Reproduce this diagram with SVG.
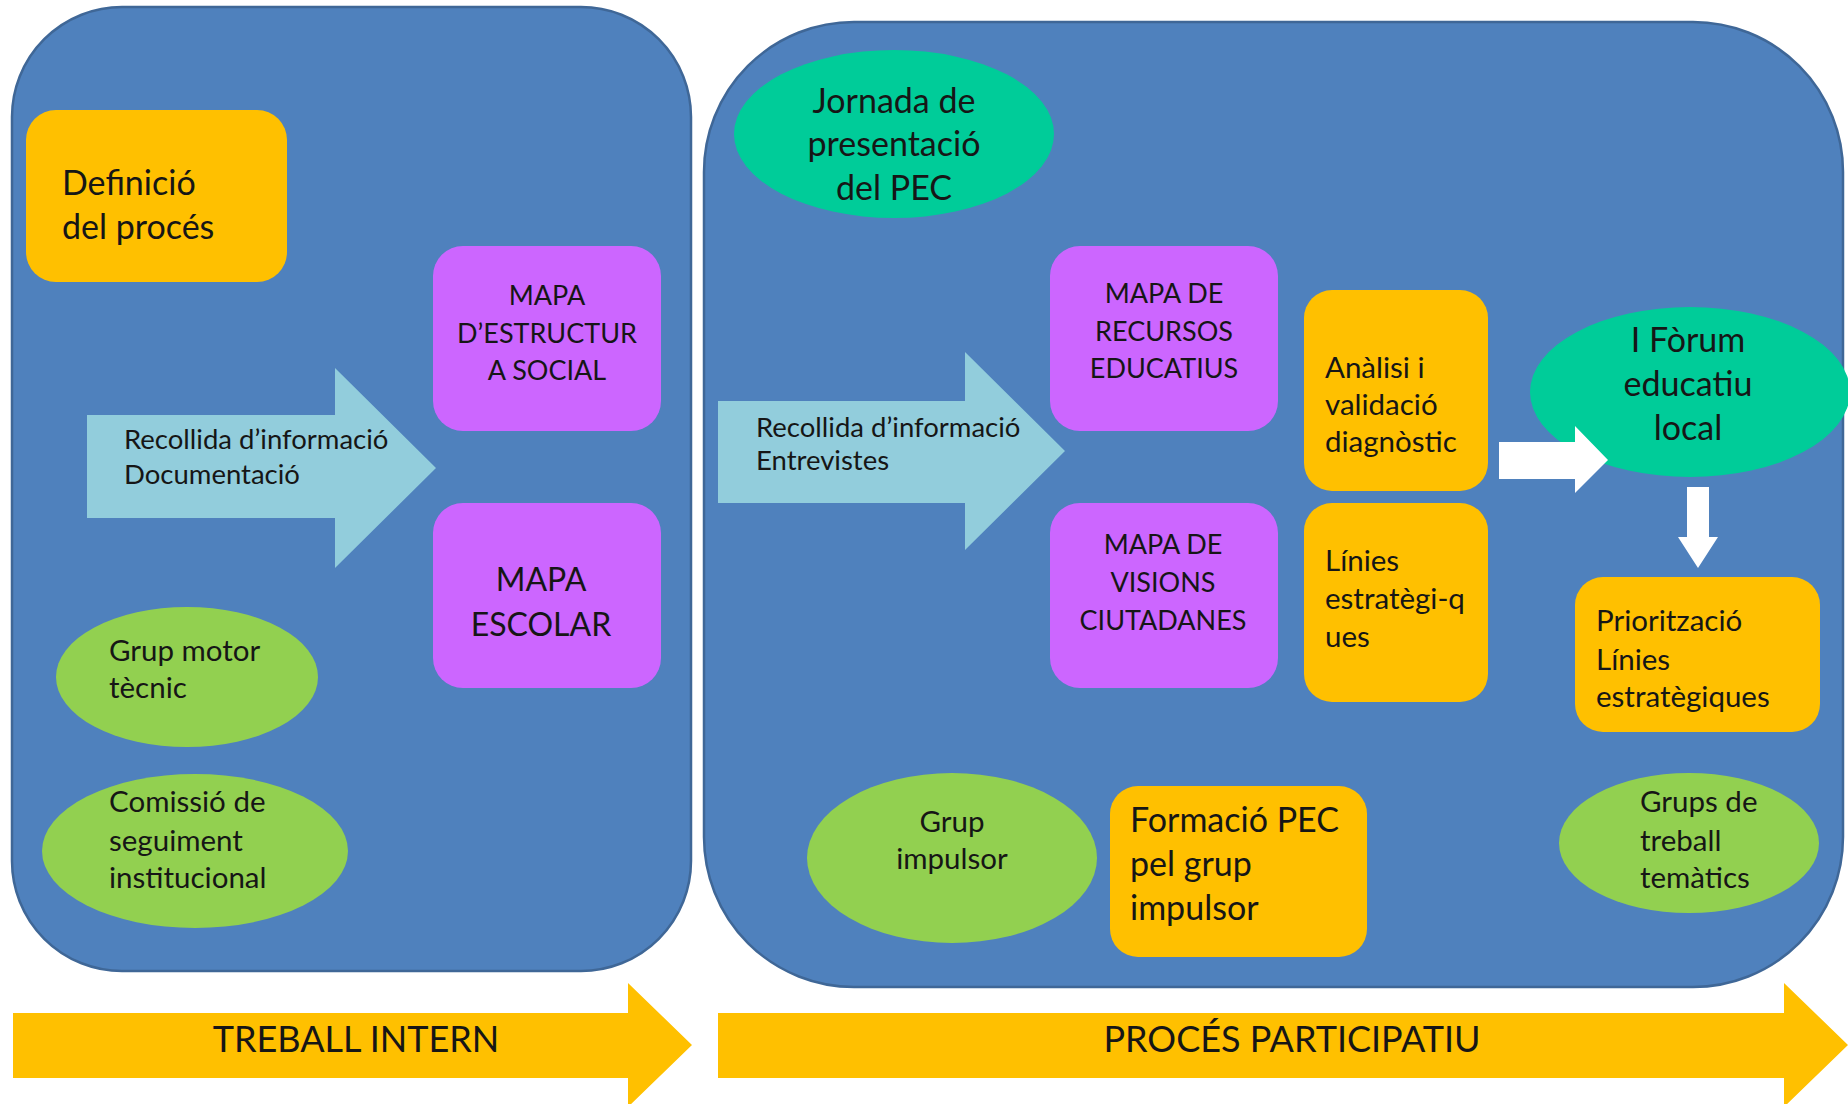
<svg xmlns="http://www.w3.org/2000/svg" width="1848" height="1104" viewBox="0 0 1848 1104">
<style>
text{font-family:Lato,"Noto Sans","Liberation Sans",sans-serif;fill:#161616}
.panel{fill:#4F81BD;stroke:#3F6797;stroke-width:2.5}
.yel{fill:#FFC000}
.vio{fill:#CC66FF}
.grn{fill:#92D050}
.teal{fill:#00CC99}
.lb{fill:#92CDDC}
.wh{fill:#FFFFFF}
.c{text-anchor:middle}
.s26{font-size:27.5px}
.s27{font-size:27px}
.s28{font-size:29.5px}
.s32{font-size:34px}
.s34{font-size:36px}
</style>
<rect width="1848" height="1104" fill="#FFFFFF"/>
<g id="panel-treball-intern"><rect class="panel" x="12" y="7" width="679" height="964" rx="110"/></g>
<g id="panel-proces-participatiu"><rect class="panel" x="704" y="22" width="1139" height="965" rx="150"/></g>

<g id="phase-treball-intern">
<polygon class="yel" points="13,1013 628,1013 628,983 692,1045 628,1107 628,1078 13,1078"/>
<text class="s34 c" x="356" y="1052">TREBALL INTERN</text>
</g>
<g id="phase-proces-participatiu">
<polygon class="yel" points="718,1013 1784,1013 1784,983 1848,1045 1784,1107 1784,1078 718,1078"/>
<text class="s34 c" x="1292" y="1052">PROCÉS PARTICIPATIU</text>
</g>

<g id="definicio">
<rect class="yel" x="26" y="110" width="261" height="172" rx="30"/>
<text class="s32" x="62" y="195">Definició</text>
<text class="s32" x="62" y="239">del procés</text>
</g>
<g id="mapa-estructura-social">
<rect class="vio" x="433" y="246" width="228" height="185" rx="30"/>
<text class="s27 c" x="547" y="305">MAPA</text>
<text class="s27 c" x="547" y="343">D’ESTRUCTUR</text>
<text class="s27 c" x="547" y="380">A SOCIAL</text>
</g>
<g id="mapa-escolar">
<rect class="vio" x="433" y="503" width="228" height="185" rx="30"/>
<text class="c" style="font-size:32px" x="541" y="591">MAPA</text>
<text class="c" style="font-size:32px" x="541" y="636">ESCOLAR</text>
</g>
<g id="grup-motor-tecnic">
<ellipse class="grn" cx="187" cy="677" rx="131" ry="70"/>
<text class="s28" x="109" y="661">Grup motor</text>
<text class="s28" x="109" y="698">tècnic</text>
</g>
<g id="comissio-seguiment">
<ellipse class="grn" cx="195" cy="851" rx="153" ry="77"/>
<text class="s28" x="109" y="812">Comissió de</text>
<text class="s28" x="109" y="851">seguiment</text>
<text class="s28" x="109" y="888">institucional</text>
</g>

<g id="jornada-presentacio">
<ellipse class="teal" cx="894" cy="134" rx="160" ry="84"/>
<text class="s32 c" x="894" y="113">Jornada de</text>
<text class="s32 c" x="894" y="156">presentació</text>
<text class="s32 c" x="894" y="200">del PEC</text>
</g>
<g id="mapa-recursos-educatius">
<rect class="vio" x="1050" y="246" width="228" height="185" rx="30"/>
<text class="s27 c" x="1164" y="303">MAPA DE</text>
<text class="s27 c" x="1164" y="341">RECURSOS</text>
<text class="s27 c" x="1164" y="378">EDUCATIUS</text>
</g>
<g id="mapa-visions-ciutadanes">
<rect class="vio" x="1050" y="503" width="228" height="185" rx="30"/>
<text class="s27 c" x="1163" y="554">MAPA DE</text>
<text class="s27 c" x="1163" y="592">VISIONS</text>
<text class="s27 c" x="1163" y="630">CIUTADANES</text>
</g>
<g id="analisi-validacio">
<rect class="yel" x="1304" y="290" width="184" height="201" rx="28"/>
<text class="s28" x="1325" y="378">Anàlisi i</text>
<text class="s28" x="1325" y="415">validació</text>
<text class="s28" x="1325" y="452">diagnòstic</text>
</g>
<g id="linies-estrategiques">
<rect class="yel" x="1304" y="503" width="184" height="199" rx="28"/>
<text class="s28" x="1325" y="571">Línies</text>
<text class="s28" x="1325" y="609">estratègi-q</text>
<text class="s28" x="1325" y="647">ues</text>
</g>
<g id="forum-educatiu">
<ellipse class="teal" cx="1690" cy="392" rx="160" ry="85"/>
<text class="s32 c" x="1688" y="352">I Fòrum</text>
<text class="s32 c" x="1688" y="396">educatiu</text>
<text class="s32 c" x="1688" y="440">local</text>
</g>
<g id="prioritzacio">
<rect class="yel" x="1575" y="577" width="245" height="155" rx="28"/>
<text class="s28" x="1596" y="631">Priorització</text>
<text class="s28" x="1596" y="670">Línies</text>
<text class="s28" x="1596" y="707">estratègiques</text>
</g>
<g id="grups-treball">
<ellipse class="grn" cx="1689" cy="843" rx="130" ry="70"/>
<text class="s28" x="1640" y="812">Grups de</text>
<text class="s28" x="1640" y="851">treball</text>
<text class="s28" x="1640" y="888">temàtics</text>
</g>
<g id="grup-impulsor">
<ellipse class="grn" cx="952" cy="858" rx="145" ry="85"/>
<text class="s28 c" x="952" y="832">Grup</text>
<text class="s28 c" x="952" y="869">impulsor</text>
</g>
<g id="formacio-pec">
<rect class="yel" x="1110" y="786" width="257" height="171" rx="28"/>
<text class="s32" x="1130" y="832">Formació PEC</text>
<text class="s32" x="1130" y="876">pel grup</text>
<text class="s32" x="1130" y="920">impulsor</text>
</g>

<g id="connectors">
<g id="arrow-recollida-1">
<polygon class="lb" points="87,415 335,415 335,368 436,468 335,568 335,518 87,518"/>
<text class="s26" x="124" y="449">Recollida d’informació</text>
<text class="s26" x="124" y="484">Documentació</text>
</g>
<g id="arrow-recollida-2">
<polygon class="lb" points="718,401 965,401 965,352 1065,451 965,550 965,503 718,503"/>
<text class="s26" x="756" y="437">Recollida d’informació</text>
<text class="s26" x="756" y="470">Entrevistes</text>
</g>
<polygon id="arrow-to-forum" class="wh" points="1499,442 1575,442 1575,426 1608,460 1575,493 1575,479 1499,479"/>
<polygon id="arrow-to-prioritzacio" class="wh" points="1687,487 1709,487 1709,537 1718,537 1698,568 1678,537 1687,537"/>
</g>
</svg>
